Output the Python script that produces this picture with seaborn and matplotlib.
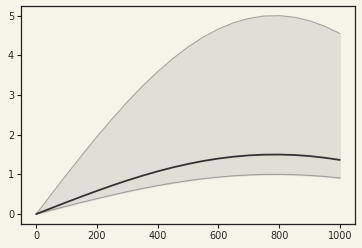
import matplotlib
matplotlib.use("Agg")
import matplotlib.pyplot as plt
import seaborn as sns
import pandas as pd

x_values = [0, 50, 100, 150, 200, 250, 300, 350, 400, 450, 500,
            550, 600, 650, 700, 750, 800, 850, 900, 950, 1000]
lower = [0.000, 0.100, 0.199, 0.296, 0.389, 0.479, 0.565, 0.644, 0.717, 0.783, 0.842,
         0.891, 0.932, 0.964, 0.985, 0.998, 1.000, 0.992, 0.974, 0.946, 0.909]
mean = [0.000, 0.150, 0.298, 0.443, 0.584, 0.719, 0.847, 0.966, 1.076, 1.175, 1.262,
        1.337, 1.398, 1.445, 1.478, 1.496, 1.499, 1.488, 1.461, 1.419, 1.364]
upper = [0.000, 0.499, 0.993, 1.477, 1.947, 2.397, 2.823, 3.221, 3.587, 3.916, 4.207,
         4.456, 4.660, 4.818, 4.927, 4.987, 4.998, 4.958, 4.869, 4.731, 4.546]

df = pd.DataFrame({"x": x_values, "lower": lower, "mean": mean, "upper": upper})

bg = "#f4f4e9"
sns.set_style("ticks")
fig, ax = plt.subplots(figsize=(3.62, 2.48), dpi=100)
fig.patch.set_facecolor(bg)
ax.set_facecolor(bg)

ax.fill_between(df["x"], df["lower"], df["upper"], color="#dfdfd8", zorder=1)
sns.lineplot(data=df, x="x", y="upper", ax=ax, color="#a8a8a0", linewidth=0.8, zorder=2)
sns.lineplot(data=df, x="x", y="lower", ax=ax, color="#a0a098", linewidth=0.8, zorder=2)
sns.lineplot(data=df, x="x", y="mean", ax=ax, color="#333333", linewidth=1.3, zorder=3)

ax.set_xlim(-50, 1050)
ax.set_ylim(-0.25, 5.24)
ax.set_xticks([0, 200, 400, 600, 800, 1000])
ax.set_yticks([0, 1, 2, 3, 4, 5])
ax.set_xlabel("")
ax.set_ylabel("")
ax.tick_params(labelsize=7, length=3, width=0.8, color="#222222", pad=2)
for s in ax.spines.values():
    s.set_color("#222222")
    s.set_linewidth(0.9)

fig.subplots_adjust(left=21/362, right=355/362, top=1-6/248, bottom=1-224/248)
fig.savefig("out.png", dpi=100, facecolor=bg)
